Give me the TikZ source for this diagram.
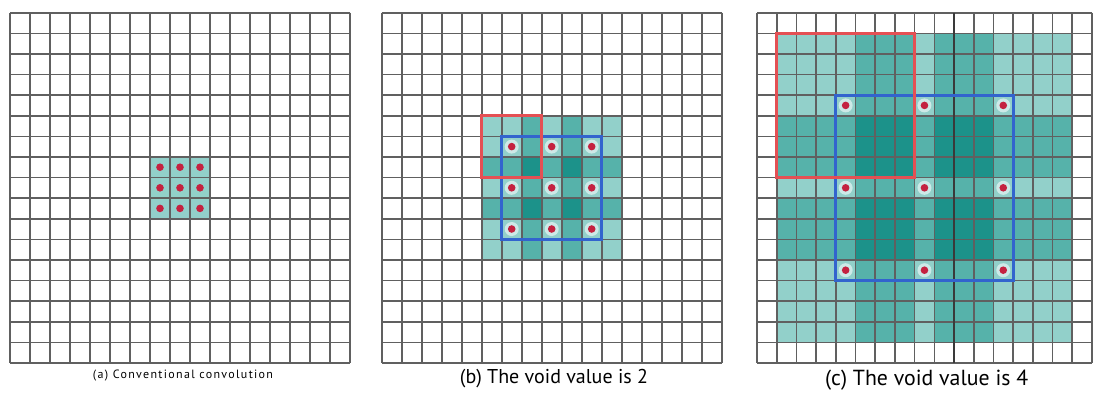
\documentclass[tikz,border=0pt]{standalone}
\usepackage{fontspec}
\setmainfont{PT Sans}
\definecolor{tl}{RGB}{146,208,202}
\definecolor{tm}{RGB}{86,178,170}
\definecolor{td}{RGB}{28,146,138}
\definecolor{gl}{RGB}{96,96,96}
\definecolor{rbox}{RGB}{228,80,84}
\definecolor{bbox}{RGB}{50,100,206}
\definecolor{dotc}{RGB}{196,34,64}
\tikzset{
  gridline/.style={draw=gl, line width=1.6pt},
  heavyline/.style={draw=gl!60!black, line width=2.2pt},
  redbox/.style={draw=rbox, line width=3.2pt},
  bluebox/.style={draw=bbox, line width=3.2pt},
  kdot/.style={fill=dotc},
  halo/.style={fill=white, fill opacity=0.55},
  caption/.style={inner sep=0pt, anchor=center}
}
\newcommand\mygrid[2]{% x0, cell width
  \foreach \i in {0,...,17}{
    \draw[gridline] ({#1+\i*#2},12.7) -- ({#1+\i*#2},{12.7+17*20.6});
    \draw[gridline] (#1,{12.7+\i*20.6}) -- ({#1+17*#2},{12.7+\i*20.6});
  }}
\newcommand\mycell[4]{% x0, cw, col, row
  ({#1+#3*#2},{12.7+#4*20.6}) rectangle ({#1+(#3+1)*#2},{12.7+(#4+1)*20.6})}
\newcommand\mydot[4]{% x0, cw, col, row
  \fill[halo] ({#1+(#3+0.5)*#2},{12.7+(#4+0.5)*20.6}) circle (7);
  \fill[kdot] ({#1+(#3+0.5)*#2},{12.7+(#4+0.5)*20.6}) circle (3.8);}
\begin{document}
\begin{tikzpicture}[x=1pt,y=-1pt]
\useasboundingbox (0,0) rectangle (1094,392);
\fill[white] (0,0) rectangle (1094,392);

% ---------- panel (a)
\def\ax{10}\def\aw{20}
\fill[tl] ({\ax+7*\aw},{12.7+7*20.6}) rectangle ({\ax+10*\aw},{12.7+10*20.6});
\mygrid{\ax}{\aw}
\foreach \i in {7,8,9}{\foreach \j in {7,8,9}{
  \fill[kdot] ({\ax+(\i+0.5)*\aw},{12.7+(\j+0.5)*20.6}) circle (3.8);
}}

% ---------- panel (b)
\def\bx{381.7}\def\bw{20}
\foreach \i in {5,...,11}{\foreach \j in {5,...,11}{
  \pgfmathtruncatemacro\cx{(\i==7 || \i==9) ? 2 : 1}
  \pgfmathtruncatemacro\cy{(\j==7 || \j==9) ? 2 : 1}
  \pgfmathtruncatemacro\cnt{\cx*\cy}
  \ifnum\cnt=1 \def\col{tl}\fi
  \ifnum\cnt=2 \def\col{tm}\fi
  \ifnum\cnt=4 \def\col{td}\fi
  \fill[\col] \mycell{\bx}{\bw}{\i}{\j};
}}
\mygrid{\bx}{\bw}
\foreach \i in {6,8,10}{\foreach \j in {6,8,10}{
  \mydot{\bx}{\bw}{\i}{\j}
}}
\draw[bluebox] ({\bx+6*\bw},{12.7+6*20.6}) rectangle ({\bx+11*\bw},{12.7+11*20.6});
\draw[redbox] ({\bx+5*\bw},{12.7+5*20.6}) rectangle ({\bx+8*\bw},{12.7+8*20.6});

% ---------- panel (c)
\def\cxo{757}\def\cww{19.7}
\foreach \i in {1,...,15}{\foreach \j in {1,...,15}{
  \pgfmathtruncatemacro\cx{((\i>=5 && \i<=7) || (\i>=9 && \i<=11)) ? 2 : 1}
  \pgfmathtruncatemacro\cy{((\j>=5 && \j<=7) || (\j>=9 && \j<=11)) ? 2 : 1}
  \pgfmathtruncatemacro\cnt{\cx*\cy}
  \ifnum\cnt=1 \def\col{tl}\fi
  \ifnum\cnt=2 \def\col{tm}\fi
  \ifnum\cnt=4 \def\col{td}\fi
  \fill[\col] \mycell{\cxo}{\cww}{\i}{\j};
}}
\mygrid{\cxo}{\cww}
\draw[heavyline] ({\cxo+10*\cww},12.7) -- ({\cxo+10*\cww},{12.7+17*20.6});
\foreach \i in {4,8,12}{\foreach \j in {4,8,12}{
  \mydot{\cxo}{\cww}{\i}{\j}
}}
\draw[bluebox] ({\cxo+4*\cww},{12.7+4*20.6}) rectangle ({\cxo+13*\cww},{12.7+13*20.6});
\draw[redbox] ({\cxo+1*\cww},{12.7+1*20.6}) rectangle ({\cxo+8*\cww},{12.7+8*20.6});

% ---------- captions
\node[caption] (capa) at (183,376) {\addfontfeatures{LetterSpace=11}\fontsize{12}{14}\selectfont (a) Conventional convolution};
\node[caption] (capb) at (554,379) {\resizebox{188pt}{!}{(b) The void value is 2}};
\node[caption] (capc) at (926.7,380.5) {\resizebox{203pt}{!}{(c) The void value is 4}};
\end{tikzpicture}
\end{document}
